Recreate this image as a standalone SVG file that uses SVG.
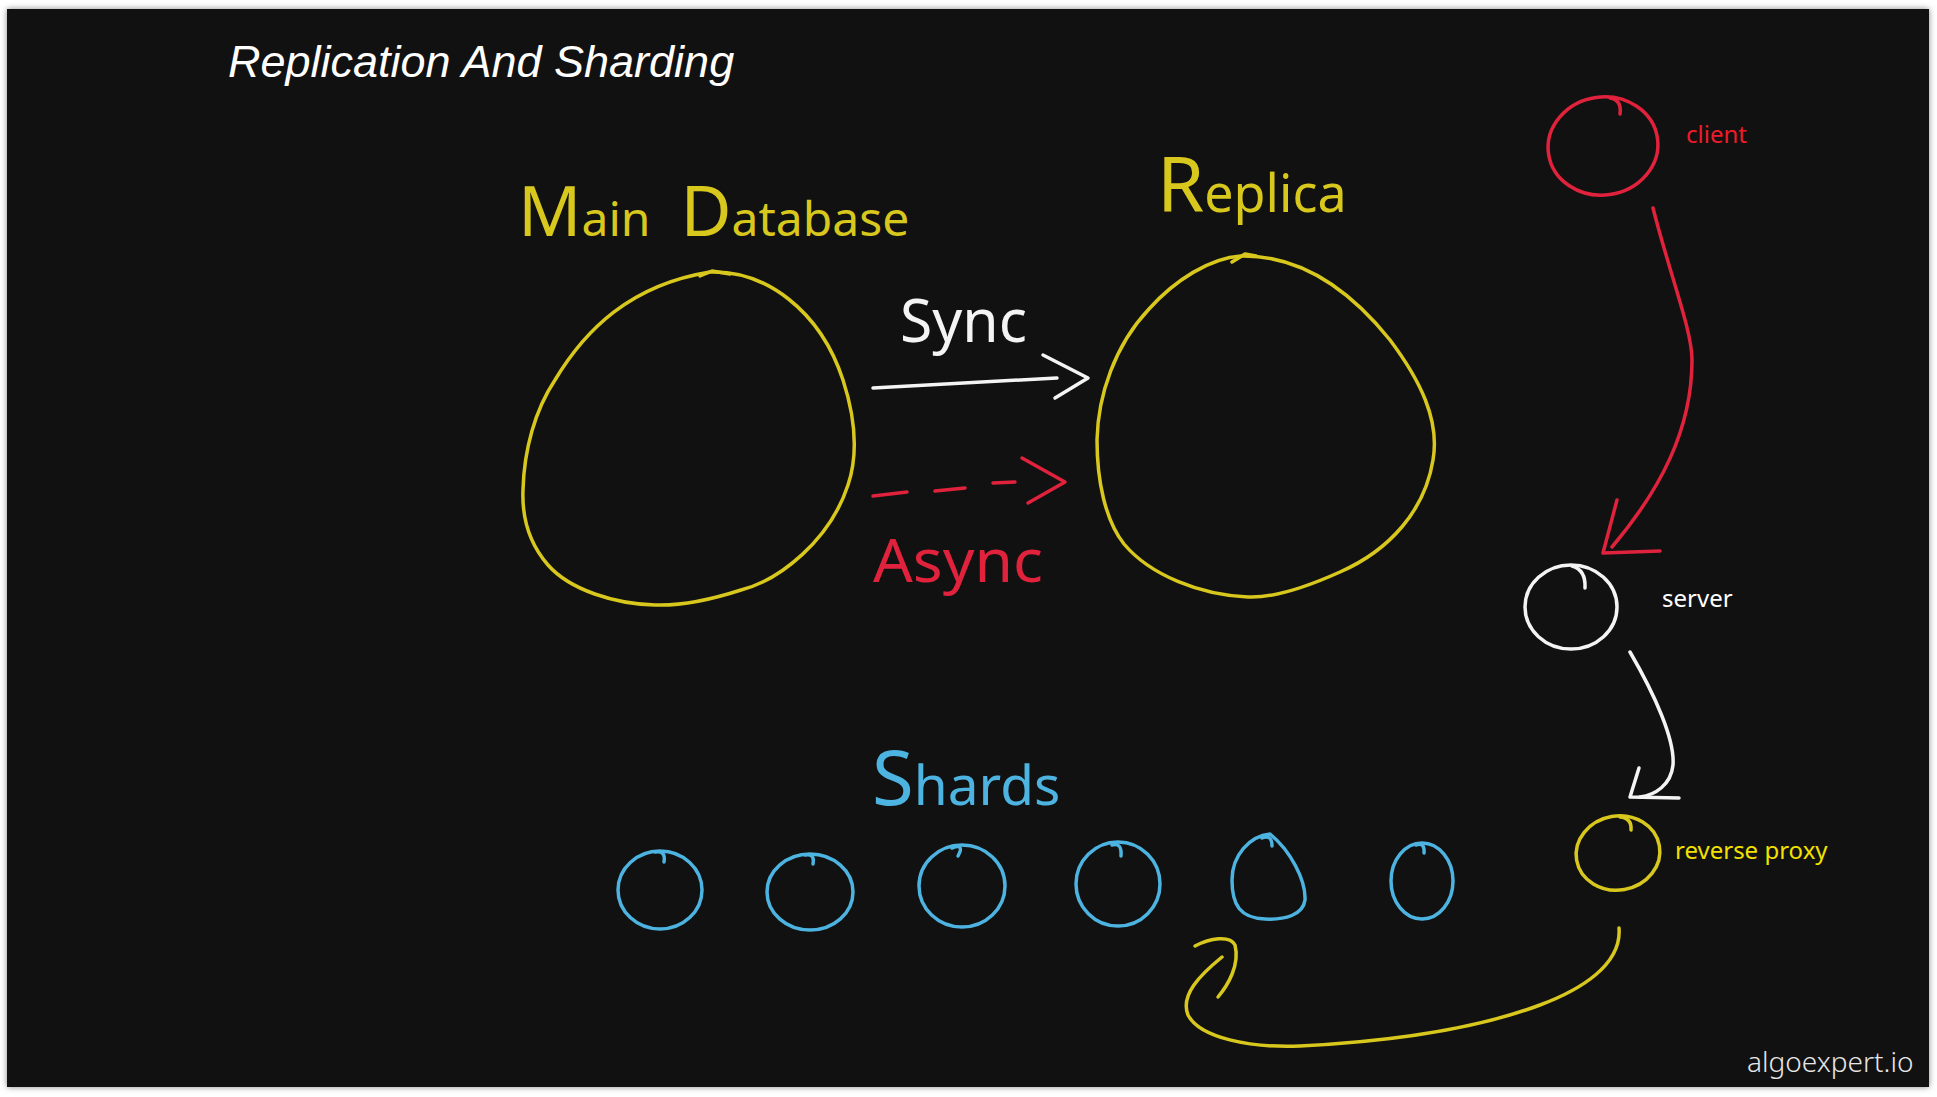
<svg xmlns="http://www.w3.org/2000/svg" width="1937" height="1097" viewBox="0 0 1937 1097">
<defs>
<style>
.hand{fill:none;stroke-width:3.5;stroke-linecap:round;stroke-linejoin:round}
.y{stroke:#d8c81e}.r{stroke:#e0223c}.b{stroke:#4db3e0}.w{stroke:#f4f4f4}
.lbl{font-family:"Noto Sans","DejaVu Sans",sans-serif}
.ui{font-family:"Noto Sans","Open Sans",sans-serif;font-size:24px}
</style>
<filter id="sh" x="-5%" y="-5%" width="110%" height="110%"><feGaussianBlur stdDeviation="3"/></filter>
</defs>
<rect width="1937" height="1097" fill="#ffffff"/>
<rect x="7" y="9" width="1922" height="1078" fill="#888" filter="url(#sh)"/>
<rect x="7" y="9" width="1922" height="1078" fill="#111111"/>

<text x="228" y="77" font-family="Liberation Sans,Arial,sans-serif" font-style="italic" font-size="45" fill="#ffffff">Replication And Sharding</text>

<g id="node-main-db">
<path class="hand y" d="M710,272 C765,270 820,310 843,380 C856,420 858,455 848,485 C830,540 780,580 741,590 C710,600 680,606 655,605 C615,604 570,590 548,565 C528,542 522,515 523,490 C524,450 535,410 555,380 C585,330 630,285 710,272 Z"/>
<path class="hand y" d="M700,276 L712,271 L730,274"/>
<text class="lbl" x="518" y="236" font-size="48" fill="#d8c81e"><tspan font-size="70">M</tspan>ain<tspan dx="30" font-size="70">D</tspan>atabase</text>
</g>

<g id="node-replica">
<path class="hand y" d="M1241,256 C1300,255 1350,290 1390,340 C1420,380 1440,420 1433,460 C1425,510 1390,550 1340,572 C1300,590 1270,598 1248,597 C1200,595 1150,575 1124,544 C1105,520 1097,480 1097,440 C1098,395 1115,345 1149,309 C1175,280 1210,258 1241,256 Z"/>
<path class="hand y" d="M1232,262 L1245,254 L1256,256"/>
<text class="lbl" x="1157" y="212" font-size="52" fill="#d8c81e"><tspan font-size="76">R</tspan>eplica</text>
</g>

<g id="node-client">
<ellipse class="hand r" cx="1603" cy="146" rx="55" ry="49" transform="rotate(-8 1603 146)"/>
<path class="hand r" d="M1610,98 Q1622,100 1620,114"/>
<text class="ui" x="1686" y="143" fill="#ee1c2a">client</text>
</g>

<g id="node-server">
<ellipse class="hand w" cx="1571" cy="607" rx="46" ry="42"/>
<path class="hand w" d="M1572,566 Q1586,570 1585,588"/>
<text class="ui" x="1662" y="607" fill="#ffffff">server</text>
</g>

<g id="node-reverse-proxy">
<ellipse class="hand y" cx="1618" cy="853" rx="42" ry="37" transform="rotate(-10 1618 853)"/>
<path class="hand y" d="M1620,817 Q1632,818 1631,830"/>
<text class="ui" x="1675" y="859" fill="#f2e000">reverse proxy</text>
</g>

<g id="shards">
<text class="lbl" x="872" y="805" font-size="55" fill="#4db3e0"><tspan font-size="76">S</tspan>hards</text>
<g id="node-shard-1"><ellipse class="hand b" cx="660" cy="890" rx="42" ry="39"/><path class="hand b" d="M655,852 Q666,850 664,862"/></g>
<g id="node-shard-2"><ellipse class="hand b" cx="810" cy="892" rx="43" ry="38"/><path class="hand b" d="M805,855 Q815,853 813,864"/></g>
<g id="node-shard-3"><ellipse class="hand b" cx="962" cy="886" rx="43" ry="41"/><path class="hand b" d="M952,848 Q965,843 958,856"/></g>
<g id="node-shard-4"><ellipse class="hand b" cx="1118" cy="884" rx="42" ry="42"/><path class="hand b" d="M1112,845 Q1122,842 1121,856"/></g>
<g id="node-shard-5"><path class="hand b" d="M1270,834 C1290,850 1306,880 1305,900 C1303,915 1285,920 1265,919 C1240,918 1232,905 1232,880 C1232,855 1250,836 1270,834 Z"/><path class="hand b" d="M1262,838 Q1272,834 1272,846"/></g>
<g id="node-shard-6"><ellipse class="hand b" cx="1422" cy="881" rx="31" ry="38"/><path class="hand b" d="M1416,845 Q1425,842 1424,853"/></g>
</g>

<g id="connectors">
<text class="lbl" x="900" y="342" font-size="60" fill="#f4f4f4" textLength="127" lengthAdjust="spacingAndGlyphs">Sync</text>
<path class="hand w" d="M873,388 L1057,378"/>
<path class="hand w" d="M1043,355 L1088,378 L1055,398"/>
<path class="hand r" d="M873,496 L907,492 M935,491 L965,488 M993,483 L1015,482"/>
<path class="hand r" d="M1022,458 L1065,482 L1028,503"/>
<text class="lbl" x="873" y="582" font-size="60" fill="#e0223c" textLength="170" lengthAdjust="spacingAndGlyphs">Async</text>
<path class="hand r" d="M1653,208 C1670,275 1692,330 1692,360 C1692,430 1660,490 1612,547"/>
<path class="hand r" d="M1617,500 L1603,553 L1660,551"/>
<path class="hand w" d="M1630,652 C1655,695 1675,740 1673,765 C1671,785 1655,795 1640,797"/>
<path class="hand w" d="M1639,768 L1630,797 L1679,798"/>
<path class="hand y" d="M1619,928 C1622,965 1580,990 1540,1005 C1460,1035 1360,1043 1300,1046 C1250,1048 1200,1038 1188,1015 C1180,995 1200,975 1222,957"/>
<path class="hand y" d="M1195,946 C1210,938 1230,935 1235,945 C1240,965 1228,985 1218,997"/>
</g>

<text x="1747" y="1072" font-family="Noto Sans,Open Sans,sans-serif" font-weight="300" font-size="28" fill="#e6e6e6">algoexpert.io</text>
</svg>
